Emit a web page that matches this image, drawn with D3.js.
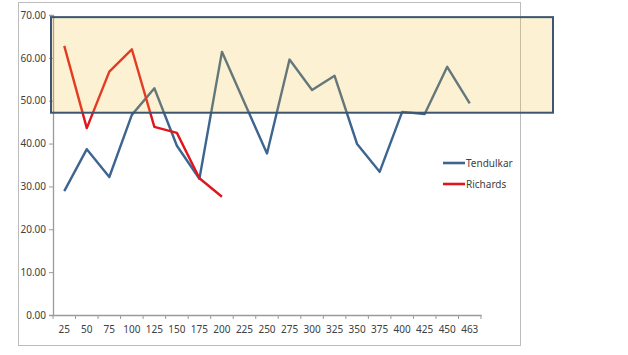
<!DOCTYPE html>
<html>
<head>
<meta charset="utf-8">
<script src="https://cdn.jsdelivr.net/npm/d3@7"></script>
<style>
  body { margin: 0; background: #fff; }
  text { font-family: "Noto Sans", sans-serif; fill: #404040; }
</style>
</head>
<body>
<script>
// data
var innings = ['25', '50', '75', '100', '125', '150', '175', '200', '225', '250',
    '275', '300', '325', '350', '375', '400', '425', '450', '463'];
var tendulkar = [28.9, 38.7, 32.2, 46.7, 52.9, 39.5, 31.8, 61.4, 49.5, 37.7,
    59.6, 52.5, 55.8, 39.9, 33.4, 47.4, 46.9, 57.9, 49.4];
var richards = [62.8, 43.6, 56.8, 62.0, 43.9, 42.5, 31.9, 27.6];
var yTicks = [0, 10, 20, 30, 40, 50, 60, 70];
var seriesNames = ['Tendulkar', 'Richards'];
var highlight = [47.2, 69.5]; // shaded band, in y values

var svgWidth = 628, svgHeight = 355;
var colors = ['#3d6590', '#e0161f'];

var svg = d3.select('body')
    .append('svg')
    .attr('width', svgWidth)
    .attr('height', svgHeight);

// chart frame
svg.append('rect')
    .attr('x', 18.5)
    .attr('y', 2.5)
    .attr('width', 502)
    .attr('height', 343)
    .attr('fill', '#fff')
    .attr('stroke', '#bcbcbc');

var xScale = d3.scaleBand()
    .domain(innings)
    .range([53, 481]);

var yScale = d3.scaleLinear()
    .domain([0, 70])
    .range([315, 15]);

var yAxis = d3.axisLeft(yScale)
    .tickValues(yTicks)
    .tickFormat(d3.format('.2f'))
    .tickSize(4);

var xAxis = d3.axisBottom(xScale)
    .tickSizeInner(0)
    .tickSizeOuter(0)
    .tickPadding(11);

var gy = svg.append('g')
    .attr('transform', 'translate(53, 0)')
    .call(yAxis);

var gx = svg.append('g')
    .attr('transform', 'translate(0, 315)')
    .call(xAxis);

// tick marks between categories
gx.selectAll('.sep')
    .data(innings.concat(['end']))
    .enter()
    .append('line')
    .attr('x1', (d, i) => 53 + i * xScale.step())
    .attr('x2', (d, i) => 53 + i * xScale.step())
    .attr('y1', 0)
    .attr('y2', 4)
    .attr('stroke', '#9a9a9a');

svg.selectAll('.domain').attr('stroke', '#9a9a9a').attr('stroke-width', 1.3);
svg.selectAll('.tick line').attr('stroke', '#9a9a9a');
svg.selectAll('.tick text')
    .style('font-size', '10px')
    .style('fill', '#404040');

var line = d3.line()
    .x((d, i) => xScale(innings[i]) + xScale.bandwidth() / 2)
    .y(d => yScale(d));

[tendulkar, richards].forEach((s, k) => {
    svg.append('path')
        .datum(s)
        .attr('d', line)
        .attr('fill', 'none')
        .attr('stroke', colors[k])
        .attr('stroke-width', 2.4)
        .attr('stroke-linejoin', 'round');
});

// legend
var legend = svg.append('g')
    .selectAll('g')
    .data(seriesNames)
    .enter()
    .append('g')
    .attr('transform', (d, i) => `translate(443, ${ 163 + i * 21 })`);

legend.append('line')
    .attr('x1', 0)
    .attr('x2', 22)
    .attr('stroke', (d, i) => colors[i])
    .attr('stroke-width', 2.6);

legend.append('text')
    .attr('x', 23)
    .attr('dy', '0.35em')
    .style('font-size', '10px')
    .text(d => d);

// highlighted band
svg.append('rect')
    .attr('x', 51)
    .attr('y', yScale(highlight[1]))
    .attr('width', 502)
    .attr('height', yScale(highlight[0]) - yScale(highlight[1]))
    .attr('fill', '#f0c030')
    .attr('fill-opacity', 0.22)
    .attr('stroke', '#3c5570')
    .attr('stroke-width', 2);
</script>
</body>
</html>
